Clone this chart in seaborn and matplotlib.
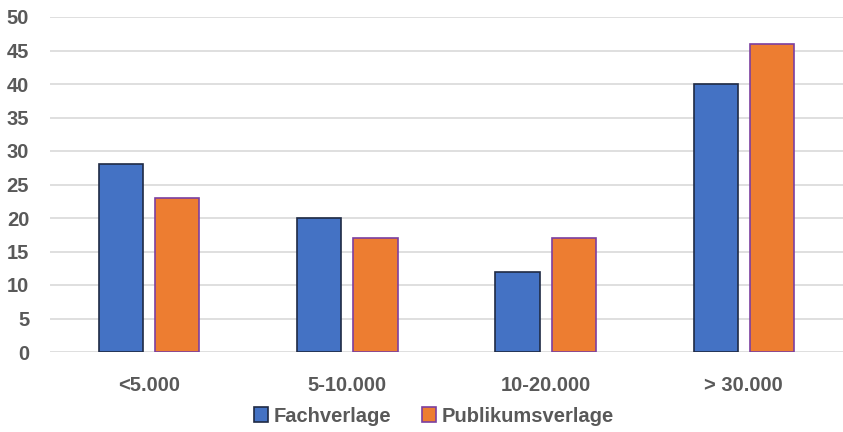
import matplotlib
matplotlib.use("Agg")
import matplotlib.pyplot as plt
import seaborn as sns
import pandas as pd
from matplotlib.patches import Patch

categories = ["<5.000", "5-10.000", "10-20.000", "> 30.000"]
fachverlage = [28, 20, 12, 40]
publikumsverlage = [23, 17, 17, 46]
series_names = ["Fachverlage", "Publikumsverlage"]
colors = ["#4472C4", "#ED7D31"]
edge_colors = ["#1F2A44", "#7B3FA0"]

df = pd.DataFrame({
    "cat": categories * 2,
    "val": fachverlage + publikumsverlage,
    "series": [series_names[0]] * 4 + [series_names[1]] * 4,
})

sns.set_theme(style="white")
plt.rcParams["font.family"] = ["Liberation Sans Narrow", "Liberation Sans", "DejaVu Sans"]

fig = plt.figure(figsize=(8.43, 4.32), dpi=100)
ax = fig.add_axes([50 / 843, 80 / 432, 793 / 843, 335 / 432])

sns.barplot(data=df, x="cat", y="val", hue="series", order=categories,
            hue_order=series_names, palette=colors, width=0.566, gap=0.21,
            ax=ax, legend=False, saturation=1)

for i, container in enumerate(ax.containers):
    for bar in container:
        bar.set_edgecolor(edge_colors[i])
        bar.set_linewidth(1.2)
        bar.set_zorder(3)

ax.set_ylim(0, 50)
ax.set_xlim(-0.5, 3.5)
ax.set_yticks(range(0, 51, 5))
ax.yaxis.grid(True, color="#D9D9D9", linewidth=1.2, zorder=0)
ax.set_axisbelow(True)
for s in ax.spines.values():
    s.set_visible(False)
ax.set_xlabel("")
ax.set_ylabel("")
ax.tick_params(axis="both", length=0, labelsize=14.5, labelcolor="#595959")
ax.tick_params(axis="y", pad=15)
ax.tick_params(axis="x", pad=17)
for lab in ax.get_yticklabels():
    lab.set_fontweight("bold")
for lab in ax.get_xticklabels():
    lab.set_fontweight("bold")

handles = [Patch(facecolor=colors[i], edgecolor=edge_colors[i], linewidth=1.2, label=series_names[i])
           for i in range(2)]
fig.legend(handles=handles, loc="center", bbox_to_anchor=(0.515, 0.037), ncol=2, frameon=False,
           prop={"weight": "bold", "size": 14.5}, labelcolor="#595959",
           handlelength=0.7, handleheight=0.7, handletextpad=0.3, columnspacing=1.5)

fig.savefig("out.png", dpi=100)
